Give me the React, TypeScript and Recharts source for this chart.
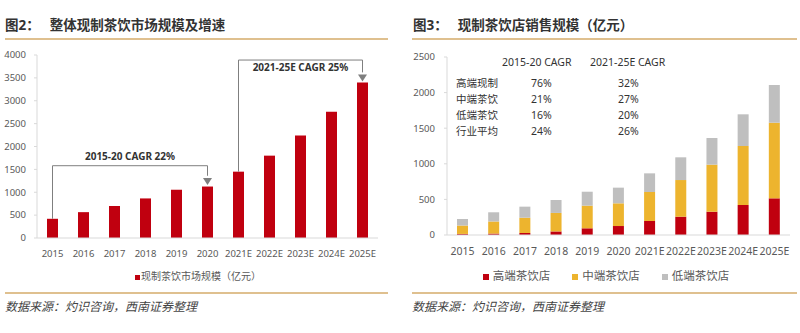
import React from "react";
import {
  Bar,
  BarChart,
  Legend,
  ReferenceDot,
  ReferenceLine,
  XAxis,
  YAxis,
} from "recharts";

// categories
const years = ["2015", "2016", "2017", "2018", "2019", "2020", "2021E", "2022E", "2023E", "2024E", "2025E"];

// 图2: market size (亿元)
const marketSize = [420, 565, 700, 865, 1055, 1125, 1450, 1800, 2240, 2760, 3400];
const marketTicks = [0, 500, 1000, 1500, 2000, 2500, 3000, 3500, 4000];

// 图3: store sales by tier (亿元)
const highEnd = [15, 20, 28, 50, 94, 126, 197, 257, 327, 421, 515];
const midEnd = [118, 170, 215, 260, 318, 319, 407, 515, 661, 829, 1062];
const lowEnd = [92, 129, 155, 182, 196, 220, 262, 319, 374, 445, 530];
const storeTicks = [0, 500, 1000, 1500, 2000, 2500];
const tierKeys = ["high", "mid", "low"];

// CAGR table in 图3
const tierNames = ["高端现制", "中端茶饮", "低端茶饮", "行业平均"];
const cagr1520 = ["76%", "21%", "16%", "24%"];
const cagr2125 = ["32%", "27%", "20%", "26%"];

// CAGR brackets in 图2
const brackets = [
  { from: "2015", to: "2020", top: 1580, tip: 1160, label: "2015-20 CAGR 22%", pos: "top", offset: 6 },
  { from: "2021E", to: "2025E", top: 3890, tip: 3420, label: "2021-25E CAGR 25%", pos: "bottom", offset: 4 },
];

const FONT = "'Noto Sans', 'Noto Sans CJK SC', sans-serif";
const RED = "#c0000f";
const YELLOW = "#edb42e";
const GRAY = "#bfbfbf";
const AXIS = "#d9d9d9";
const TICK = "#595959";
const NOTE = "#7f7f7f";
const RULE = "#dfc08f";

const marketData = years.map((year, i) => ({ year, value: marketSize[i] }));
const storeData = years.map((year, i) => ({
  year,
  high: highEnd[i],
  mid: midEnd[i],
  low: lowEnd[i],
}));
// band edges, for the little ticks between categories
const bandEdges = years.map((_, i) => i).concat(years.length);

const ArrowDown = (props: any) => {
  const { cx, cy } = props;
  return <path d={`M${cx - 4.5},${cy - 7}L${cx + 4.5},${cy - 7}L${cx},${cy}Z`} fill={NOTE} />;
};

function Title({ no, text, left }: { no: string; text: string; left: number }) {
  return (
    <div
      style={{
        position: "absolute",
        left,
        top: 16,
        fontSize: 13.5,
        fontWeight: 700,
        color: "#333",
        lineHeight: "18px",
        whiteSpace: "nowrap",
      }}
    >
      {no}
      <span style={{ marginLeft: 10 }}>{text}</span>
    </div>
  );
}

function Rule({ left, width, top }: { left: number; width: number; top: number }) {
  return <div style={{ position: "absolute", left, top, width, height: 2, background: RULE }} />;
}

function Source({ left }: { left: number }) {
  return (
    <div
      style={{
        position: "absolute",
        left,
        top: 299,
        fontSize: 12,
        fontStyle: "italic",
        color: "#444",
        lineHeight: "16px",
        whiteSpace: "nowrap",
      }}
    >
      数据来源：灼识咨询，西南证券整理
    </div>
  );
}

function MarketChart() {
  const byYear = (y: string) => marketSize[years.indexOf(y)];
  return (
    <BarChart
      width={390}
      height={244}
      data={marketData}
      margin={{ top: 15, right: 12, bottom: 0, left: 0 }}
      style={{ fontFamily: FONT }}
    >
      <XAxis
        xAxisId="edge"
        type="number"
        domain={[0, years.length]}
        ticks={bandEdges}
        allowDataOverflow
        axisLine={false}
        tickLine={{ stroke: AXIS }}
        tickSize={4}
        tickFormatter={() => ""}
        height={0}
      />
      <XAxis
        xAxisId="cat"
        dataKey="year"
        interval={0}
        tickLine={false}
        axisLine={{ stroke: AXIS }}
        tick={{ fill: TICK, fontSize: 9.5 }}
        tickMargin={6}
        height={30}
      />
      <YAxis
        domain={[0, 4000]}
        ticks={marketTicks}
        interval={0}
        width={37}
        tickSize={3}
        tickMargin={8}
        axisLine={{ stroke: AXIS }}
        tickLine={{ stroke: AXIS }}
        tick={{ fill: TICK, fontSize: 9.5 }}
      />
      <Legend
        verticalAlign="bottom"
        iconType="square"
        iconSize={5}
        wrapperStyle={{ height: 16, lineHeight: "16px", fontSize: 10, paddingLeft: 14 }}
        formatter={(v) => <span style={{ color: TICK, marginLeft: -3 }}>{v}</span>}
      />
      <Bar
        xAxisId="cat"
        dataKey="value"
        name="现制茶饮市场规模（亿元）"
        fill={RED}
        barSize={11}
        isAnimationActive={false}
      />
      {brackets.map((b) => (
        <React.Fragment key={b.label}>
          <ReferenceLine
            xAxisId="cat"
            segment={[{ x: b.from, y: byYear(b.from) }, { x: b.from, y: b.top }]}
            stroke={NOTE}
          />
          <ReferenceLine
            xAxisId="cat"
            segment={[{ x: b.from, y: b.top }, { x: b.to, y: b.top }]}
            stroke={NOTE}
            label={{
              value: b.label,
              position: b.pos as any,
              offset: b.offset,
              fill: "#333",
              fontSize: 10,
              fontWeight: 700,
            }}
          />
          <ReferenceLine
            xAxisId="cat"
            segment={[{ x: b.to, y: b.top }, { x: b.to, y: b.tip + 200 }]}
            stroke={NOTE}
          />
          <ReferenceDot xAxisId="cat" x={b.to} y={b.tip} shape={ArrowDown} />
        </React.Fragment>
      ))}
    </BarChart>
  );
}

function StoreChart() {
  return (
    <BarChart
      width={400}
      height={244}
      data={storeData}
      margin={{ top: 17, right: 10, bottom: 0, left: 0 }}
      style={{ fontFamily: FONT }}
    >
      <XAxis
        xAxisId="edge"
        type="number"
        domain={[0, years.length]}
        ticks={bandEdges}
        allowDataOverflow
        axisLine={false}
        tickLine={{ stroke: AXIS }}
        tickSize={4}
        tickFormatter={() => ""}
        height={0}
      />
      <XAxis
        xAxisId="cat"
        dataKey="year"
        interval={0}
        tickLine={false}
        axisLine={{ stroke: AXIS }}
        tick={{ fill: TICK, fontSize: 10.5 }}
        tickMargin={7}
        height={33}
      />
      <YAxis
        domain={[0, 2500]}
        ticks={storeTicks}
        interval={0}
        width={47}
        tickSize={3}
        tickMargin={9}
        axisLine={{ stroke: AXIS }}
        tickLine={{ stroke: AXIS }}
        tick={{ fill: TICK, fontSize: 9.5 }}
      />
      <Legend
        verticalAlign="bottom"
        iconType="square"
        iconSize={6}
        itemSorter={(item: any) => tierKeys.indexOf(String(item.dataKey))}
        wrapperStyle={{ height: 16, lineHeight: "16px", fontSize: 11.5, paddingLeft: 22 }}
        formatter={(v) => <span style={{ color: TICK, marginRight: 12 }}>{v}</span>}
      />
      <Bar xAxisId="cat" dataKey="high" name="高端茶饮店" stackId="s" fill={RED} barSize={11} isAnimationActive={false} />
      <Bar xAxisId="cat" dataKey="mid" name="中端茶饮店" stackId="s" fill={YELLOW} barSize={11} isAnimationActive={false} />
      <Bar xAxisId="cat" dataKey="low" name="低端茶饮店" stackId="s" fill={GRAY} barSize={11} isAnimationActive={false} />
    </BarChart>
  );
}

function CagrTable() {
  const cell = (left: number, top: number, text: string) => (
    <div
      key={`${left}-${top}`}
      style={{ position: "absolute", left, top, fontSize: 10.5, lineHeight: "14px", color: "#333", whiteSpace: "nowrap" }}
    >
      {text}
    </div>
  );
  return (
    <>
      {cell(502, 55, "2015-20 CAGR")}
      {cell(590, 55, "2021-25E CAGR")}
      {tierNames.map((t, i) => cell(456, 76 + i * 16, t))}
      {cagr1520.map((v, i) => cell(531, 76 + i * 16, v))}
      {cagr2125.map((v, i) => cell(618, 76 + i * 16, v))}
    </>
  );
}

export default function App() {
  return (
    <div
      style={{
        position: "absolute",
        left: 0,
        top: 0,
        width: 800,
        height: 333,
        background: "#fff",
        fontFamily: FONT,
        overflow: "hidden",
      }}
    >
      <Title no="图2：" text="整体现制茶饮市场规模及增速" left={5} />
      <Title no="图3：" text="现制茶饮店销售规模（亿元）" left={413} />
      <Rule left={5} width={383} top={38} />
      <Rule left={412} width={385} top={38} />

      <div style={{ position: "absolute", left: 0, top: 40 }}>
        <MarketChart />
      </div>
      <div style={{ position: "absolute", left: 400, top: 40 }}>
        <StoreChart />
      </div>
      <CagrTable />

      <Rule left={5} width={383} top={292} />
      <Rule left={412} width={385} top={292} />
      <Source left={5} />
      <Source left={412} />
    </div>
  );
}
